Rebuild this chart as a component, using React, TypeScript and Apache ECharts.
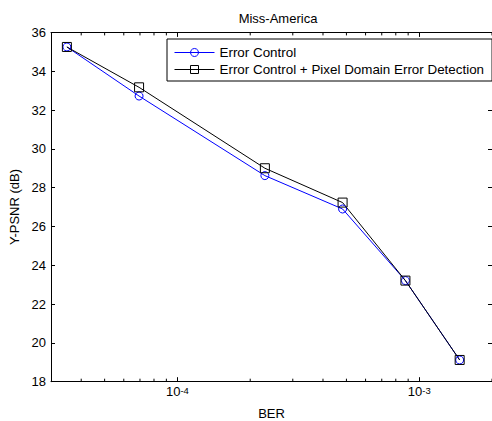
import React, { useEffect, useRef } from "react";
import * as echarts from "echarts";

const berValues = [3.49e-5, 6.94e-5, 2.3e-4, 4.82e-4, 8.77e-4, 1.47e-3];
const errorControl = [35.25, 32.72, 28.62, 26.9, 23.21, 19.12];
const errorControlPixel = [35.25, 33.17, 29.0, 27.23, 23.21, 19.12];
const seriesNames = ["Error Control", "Error Control + Pixel Domain Error Detection"];
const minorTickValues = [
  4e-5, 5e-5, 6e-5, 7e-5, 8e-5, 9e-5,
  2e-4, 3e-4, 4e-4, 5e-4, 6e-4, 7e-4, 8e-4, 9e-4,
  2e-3,
];
const xMin = 3e-5;
const xMax = 2e-3;
const yMin = 18;
const yMax = 36;
const yStep = 2;

const FONT = "'Liberation Sans', Arial, Helvetica, sans-serif";
const FS = 13;

export default function App() {
  const ref = useRef<HTMLDivElement>(null);
  useEffect(() => {
    if (!ref.current) return;
    const chart = echarts.init(ref.current, undefined, { renderer: "svg" });
    const decadeFormatter = (v: number) => {
      const l = Math.log10(v);
      const e = Math.round(l);
      if (Math.abs(l - e) > 1e-6) return "";
      return `10{sup|${e}}`;
    };
    const axisBase = {
      axisLine: { show: true, onZero: false, lineStyle: { color: "#000", width: 1 } },
      splitLine: { show: false },
    };
    chart.setOption({
      animation: false,
      backgroundColor: "#fff",
      textStyle: { fontFamily: FONT },
      title: {
        text: "Miss-America",
        left: 273,
        top: 7,
        textAlign: "center",
        textStyle: { fontFamily: FONT, fontSize: FS, fontWeight: "normal", color: "#000" },
      },
      legend: {
        orient: "vertical",
        left: 167,
        top: 39,
        padding: [7, 8, 5, 7],
        itemGap: 4,
        itemWidth: 40,
        itemHeight: 10,
        borderColor: "#000",
        borderWidth: 1,
        borderRadius: 0,
        backgroundColor: "#fff",
        lineStyle: { width: 1 },
        itemStyle: { borderWidth: 1 },
        textStyle: { fontFamily: FONT, fontSize: 13.4, color: "#000" },
        data: seriesNames,
      },
      grid: { left: 51, right: 5, top: 32.4, bottom: 39.3, containLabel: false, outerBoundsMode: "none" },
      xAxis: [
        {
          ...axisBase,
          type: "log",
          logBase: 10,
          min: xMin,
          max: xMax,
          position: "bottom",
          name: "BER",
          nameLocation: "middle",
          nameGap: 25,
          nameMoveOverlap: false,
          nameTextStyle: { fontFamily: FONT, fontSize: FS, color: "#000" },
          axisTick: { show: true, inside: true, length: 4.5, lineStyle: { color: "#000" } },
          axisLabel: {
            show: true,
            margin: 3.5,
            color: "#000",
            fontFamily: FONT,
            fontSize: FS,
            formatter: decadeFormatter,
            rich: {
              sup: { fontFamily: FONT, fontSize: 9.5, lineHeight: 10, color: "#000", verticalAlign: "top", padding: [0, 0, 12, 0] },
            },
          },
        },
        {
          ...axisBase,
          type: "log",
          logBase: 10,
          min: xMin,
          max: xMax,
          position: "top",
          axisTick: { show: true, inside: true, length: 4.5, lineStyle: { color: "#000" } },
          axisLabel: { show: false },
        },
      ],
      yAxis: [
        {
          ...axisBase,
          type: "value",
          min: yMin,
          max: yMax,
          interval: yStep,
          position: "left",
          name: "Y-PSNR (dB)",
          nameLocation: "middle",
          nameGap: 30,
          nameTextStyle: { fontFamily: FONT, fontSize: FS, color: "#000" },
          axisTick: { show: true, inside: true, length: 4, lineStyle: { color: "#000" } },
          axisLabel: { show: true, margin: 5, color: "#000", fontFamily: FONT, fontSize: FS },
        },
        {
          ...axisBase,
          type: "value",
          min: yMin,
          max: yMax,
          interval: yStep,
          position: "right",
          axisTick: { show: true, inside: true, length: 4, lineStyle: { color: "#000" } },
          axisLabel: { show: false },
        },
      ],
      series: [
        {
          type: "custom",
          silent: true,
          xAxisIndex: 0,
          yAxisIndex: 0,
          clip: false,
          data: minorTickValues.map((v) => [v, yMin]),
          renderItem: (params: any, api: any) => {
            const v = api.value(0);
            const b = api.coord([v, yMin]);
            const t = api.coord([v, yMax]);
            return {
              type: "group",
              children: [
                { type: "line", shape: { x1: b[0], y1: b[1], x2: b[0], y2: b[1] - 3 }, style: { stroke: "#000", lineWidth: 1 } },
                { type: "line", shape: { x1: t[0], y1: t[1], x2: t[0], y2: t[1] + 3 }, style: { stroke: "#000", lineWidth: 1 } },
              ],
            };
          },
        },
        {
          name: seriesNames[0],
          type: "line",
          xAxisIndex: 0,
          yAxisIndex: 0,
          data: berValues.map((x, i) => [x, errorControl[i]]),
          symbol: "circle",
          symbolSize: 8,
          showAllSymbol: true,
          color: "#0000ff",
          lineStyle: { color: "#0000ff", width: 1 },
          itemStyle: { color: "rgba(0,0,0,0)", borderColor: "#0000ff", borderWidth: 1 },
        },
        {
          name: seriesNames[1],
          type: "line",
          xAxisIndex: 0,
          yAxisIndex: 0,
          data: berValues.map((x, i) => [x, errorControlPixel[i]]),
          symbol: "rect",
          symbolSize: 9,
          showAllSymbol: true,
          color: "#000",
          lineStyle: { color: "#000", width: 1 },
          itemStyle: { color: "rgba(0,0,0,0)", borderColor: "#000", borderWidth: 1 },
        },
      ],
    });
    return () => chart.dispose();
  }, []);
  return (
    <div style={{ position: "fixed", left: 0, top: 0, width: 492, height: 421, overflow: "hidden", background: "#fff" }}>
      <div ref={ref} style={{ width: 497, height: 421 }} />
    </div>
  );
}
